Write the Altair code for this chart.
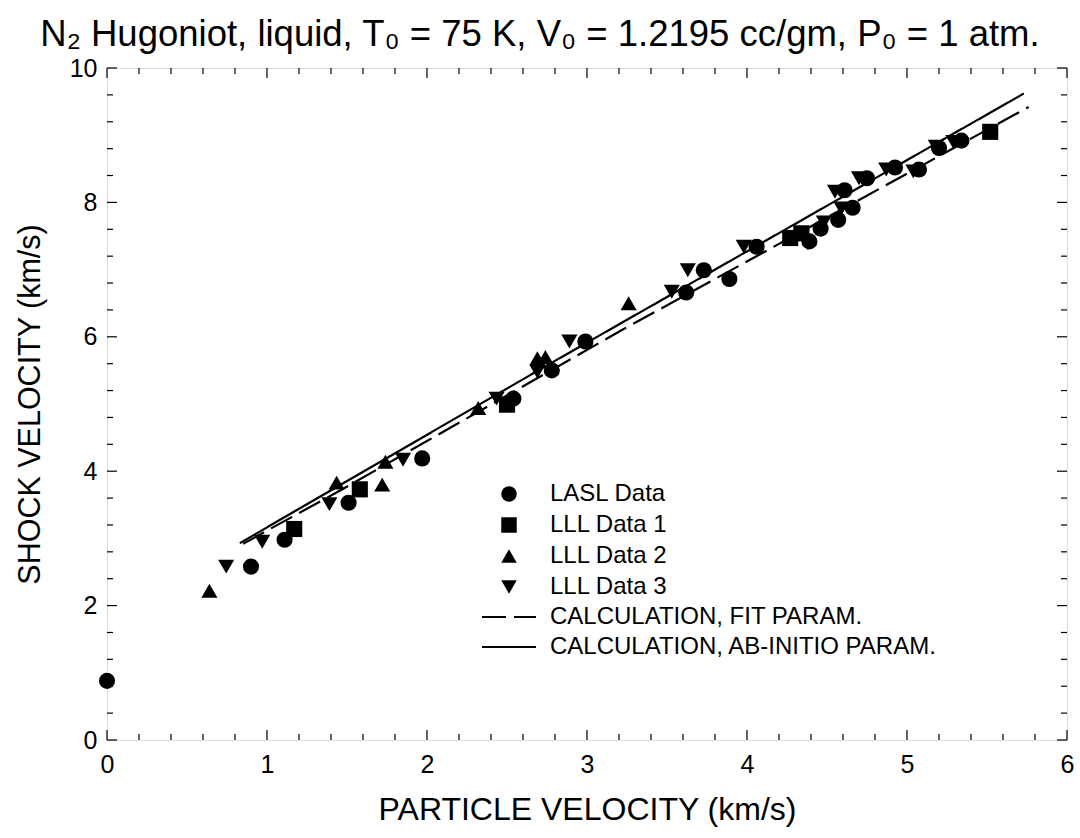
import altair as alt
import pandas as pd

FONT = "Liberation Sans"

# ---- data ----
LASL_UP = [0.00, 0.90, 1.11, 1.51, 1.97, 2.54, 2.78, 2.99, 3.62, 3.73, 3.89, 4.06,
           4.39, 4.46, 4.57, 4.61, 4.66, 4.75, 4.925, 5.075, 5.20, 5.34]
LASL_US = [0.88, 2.58, 2.98, 3.53, 4.19, 5.08, 5.50, 5.93, 6.66, 6.99, 6.86, 7.34,
           7.42, 7.61, 7.74, 8.18, 7.92, 8.36, 8.52, 8.49, 8.81, 8.92]

LLL1_UP = [1.17, 1.58, 2.50, 4.27, 4.34, 5.52]
LLL1_US = [3.14, 3.73, 4.99, 7.47, 7.54, 9.05]

LLL2_UP = [0.64, 1.435, 1.72, 1.74, 2.32, 2.69, 2.74, 3.26]
LLL2_US = [2.22, 3.83, 3.80, 4.14, 4.94, 5.68, 5.70, 6.50]

LLL3_UP = [0.745, 0.97, 1.39, 1.85, 2.435, 2.69, 2.89, 3.53, 3.63, 3.98, 4.38, 4.48,
           4.59, 4.55, 4.70, 4.87, 5.04, 5.18, 5.29]
LLL3_US = [2.58, 2.95, 3.51, 4.17, 5.08, 5.48, 5.93, 6.67, 6.99, 7.34, 7.39, 7.70,
           7.91, 8.16, 8.36, 8.49, 8.46, 8.83, 8.90]

FIT_UP = [0.85, 1.44, 3.21, 5.76]
FIT_US = [2.92, 3.69, 6.09, 9.42]

ABI_UP = [0.83, 2.71, 5.73]
ABI_US = [2.93, 5.52, 9.62]

SERIES = ["LASL Data", "LLL Data 1", "LLL Data 2", "LLL Data 3"]
SHAPES = ["circle", "square", "triangle-up", "triangle-down"]
CALC = ["CALCULATION, FIT PARAM.", "CALCULATION, AB-INITIO PARAM."]

X_MAJOR = [0, 1, 2, 3, 4, 5, 6]
X_MINOR = [0.2, 0.4, 0.6, 0.8, 1.2, 1.4, 1.6, 1.8, 2.2, 2.4, 2.6, 2.8, 3.2, 3.4, 3.6, 3.8,
           4.2, 4.4, 4.6, 4.8, 5.2, 5.4, 5.6, 5.8]
Y_MAJOR = [0, 2, 4, 6, 8, 10]
Y_MINOR = [0.4, 0.8, 1.2, 1.6, 2.4, 2.8, 3.2, 3.6, 4.4, 4.8, 5.2, 5.6, 6.4, 6.8, 7.2, 7.6,
           8.4, 8.8, 9.2, 9.6]

TITLE = "N\u2082 Hugoniot, liquid, T\u2080 = 75 K, V\u2080 = 1.2195 cc/gm, P\u2080 = 1 atm."

# ---- tables ----
rows = []
for name, xv, yv in [(SERIES[0], LASL_UP, LASL_US), (SERIES[1], LLL1_UP, LLL1_US),
                     (SERIES[2], LLL2_UP, LLL2_US), (SERIES[3], LLL3_UP, LLL3_US)]:
    for a, b in zip(xv, yv):
        rows.append({"up": a, "us": b, "series": name})
points = pd.DataFrame(rows)

lrows = []
for name, xv, yv in [(CALC[0], FIT_UP, FIT_US), (CALC[1], ABI_UP, ABI_US)]:
    for a, b in zip(xv, yv):
        lrows.append({"up": a, "us": b, "calc": name})
lines = pd.DataFrame(lrows)

W, H = 960, 672
xs = alt.Scale(domain=[0, 6], nice=False, zero=False)
ys = alt.Scale(domain=[0, 10], nice=False, zero=False)

x_axis = alt.Axis(values=X_MAJOR, format="d", ticks=False, tickSize=0, domain=False, grid=False,
                  labelFontSize=25, labelFont=FONT, labelColor="black", labelPadding=12,
                  labelFlush=False,
                  title="PARTICLE VELOCITY (km/s)", titleFont=FONT, titleFontSize=32,
                  titleFontWeight="normal", titleColor="black", titleX=W / 2, titleY=79,
                  titleBaseline="alphabetic", titleAlign="center")
y_axis = alt.Axis(values=Y_MAJOR, format="d", ticks=False, tickSize=0, domain=False, grid=False,
                  labelFontSize=25, labelFont=FONT, labelColor="black", labelPadding=10,
                  labelFlush=False,
                  title="SHOCK VELOCITY (km/s)", titleFont=FONT, titleFontSize=30.5,
                  titleFontWeight="normal", titleColor="black", titleAngle=270,
                  titleX=-68, titleY=H / 2, titleBaseline="alphabetic", titleAlign="center")


def X(field):
    return alt.X(field, scale=xs, axis=x_axis)


def Y(field):
    return alt.Y(field, scale=ys, axis=y_axis)


pts = alt.Chart(points).mark_point(filled=True, opacity=1, color="black", size=260).encode(
    x=X("up:Q"),
    y=Y("us:Q"),
    shape=alt.Shape("series:N", scale=alt.Scale(domain=SERIES, range=SHAPES),
                    legend=alt.Legend(title=None, orient="none", legendX=390, legendY=414,
                                      labelFontSize=24, labelFont=FONT, labelColor="black",
                                      labelLimit=600, symbolSize=240, symbolFillColor="black",
                                      symbolStrokeWidth=0, labelOffset=29, rowPadding=7,
                                      padding=0)),
)

lns = alt.Chart(lines).mark_line(color="black", strokeWidth=2.2).encode(
    x=X("up:Q"),
    y=Y("us:Q"),
    strokeDash=alt.StrokeDash("calc:N", scale=alt.Scale(domain=CALC, range=[[24, 8], [1, 0]]),
                              legend=alt.Legend(title=None, orient="none", legendX=390,
                                                legendY=537, symbolType="M-3.49,0L3.49,0",
                                                symbolSize=240, symbolStrokeWidth=2.2,
                                                symbolStrokeColor="black", labelFontSize=24,
                                                labelFont=FONT, labelColor="black",
                                                labelLimit=600, labelOffset=29, rowPadding=6,
                                                padding=0)),
)


def xticks(vals, length):
    d = pd.DataFrame({"up": vals})
    base = alt.Chart(d).mark_rule(color="black", strokeWidth=1.2)
    bot = base.encode(x=X("up:Q"), y=alt.value(H), y2=alt.value(H - length))
    top = base.encode(x=X("up:Q"), y=alt.value(0), y2=alt.value(length))
    return [bot, top]


def yticks(vals, length):
    d = pd.DataFrame({"us": vals})
    base = alt.Chart(d).mark_rule(color="black", strokeWidth=1.2)
    lft = base.encode(y=Y("us:Q"), x=alt.value(0), x2=alt.value(length))
    rgt = base.encode(y=Y("us:Q"), x=alt.value(W), x2=alt.value(W - length))
    return [lft, rgt]


layers = xticks(X_MAJOR, 10) + xticks(X_MINOR, 6) + yticks(Y_MAJOR, 10) + yticks(Y_MINOR, 6)

chart = alt.layer(lns, pts, *layers).properties(
    width=W, height=H,
    autosize=alt.AutoSizeParams(type="none"),
    padding={"left": 107, "top": 68, "right": 13, "bottom": 98},
    title=alt.TitleParams(text=TITLE, font=FONT, fontSize=36.5, fontWeight="normal",
                          color="black", anchor="middle", dx=-47, dy=39,
                          baseline="alphabetic", offset=13),
).configure_view(stroke="black", strokeWidth=1.5).configure(background="white")

chart.save("out.html", embed_options={"renderer": "svg", "actions": False})
